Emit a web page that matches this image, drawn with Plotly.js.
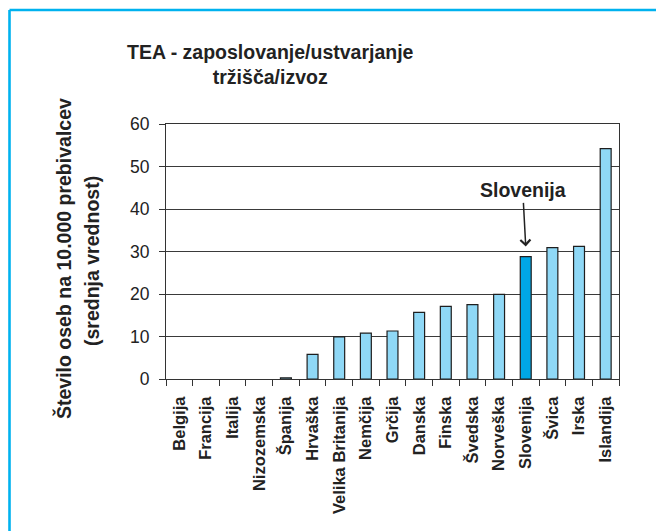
<!DOCTYPE html>
<html>
<head>
<meta charset="utf-8">
<script src="https://cdn.plot.ly/plotly-3.0.1.min.js"></script>
<style>html,body{margin:0;padding:0;background:#fff;}#chart{width:656px;height:531px;}</style>
</head>
<body>
<div id="chart"></div>
<script>
const categories = ['Belgija','Francija','Italija','Nizozemska','Španija','Hrvaška','Velika Britanija','Nemčija','Grčija','Danska','Finska','Švedska','Norveška','Slovenija','Švica','Irska','Islandija'];
const values = [0, 0, 0, 0, 0.3, 5.8, 9.9, 10.8, 11.3, 15.7, 17.1, 17.5, 19.9, 28.8, 30.9, 31.2, 54.2];
const highlight = 'Slovenija';
const titleText = 'TEA - zaposlovanje/ustvarjanje<br>tržišča/izvoz';
const yTitle1 = 'Število oseb na 10.000 prebivalcev';
const yTitle2 = '(srednja vrednost)';
const yTicks = [0, 10, 20, 30, 40, 50, 60];

const FONT = 'Liberation Sans, Arial, sans-serif';
const colors = categories.map(c => c === highlight ? '#00a7e6' : '#8fd8f6');
const lineWidths = values.map(v => v > 0 ? 1.2 : 0);

const trace = {
  type: 'bar',
  x: categories,
  y: values,
  marker: {color: colors, line: {color: '#1e1e1e', width: lineWidths}},
  hoverinfo: 'x+y'
};

const layout = {
  width: 656, height: 531,
  margin: {l: 166, r: 37, t: 124, b: 152, pad: 0},
  paper_bgcolor: '#ffffff', plot_bgcolor: '#ffffff',
  showlegend: false,
  bargap: 0.59,
  font: {family: FONT, color: '#222'},
  xaxis: {
    type: 'category',
    tickson: 'boundaries',
    ticks: 'outside', ticklen: 6, tickcolor: '#333', tickwidth: 1,
    showline: true, linecolor: '#333', linewidth: 1, mirror: true,
    showgrid: false,
    tickangle: -90,
    ticklabelstandoff: 10,
    tickfont: {family: FONT, size: 16.5, color: '#222', weight: 'bold'}
  },
  yaxis: {
    range: [0, 60],
    tickvals: yTicks,
    ticks: 'outside', ticklen: 6, tickcolor: '#333', tickwidth: 1,
    showline: true, linecolor: '#333', linewidth: 1, mirror: true,
    showgrid: true, gridcolor: '#3a3a3a', gridwidth: 1,
    zeroline: false,
    ticklabelstandoff: 6,
    tickfont: {family: FONT, size: 17.5, color: '#222'}
  },
  annotations: [
    {text: '<b>' + titleText + '</b>', xref: 'paper', yref: 'paper',
     x: (270 - 166) / 453, y: (379 - 65) / 255, xanchor: 'center', yanchor: 'middle',
     showarrow: false, font: {family: FONT, size: 19.5, color: '#222'}},
    {text: '<b>' + yTitle1 + '</b>', xref: 'paper', yref: 'paper',
     x: (63 - 166) / 453, y: (379 - 259) / 255, xanchor: 'center', yanchor: 'middle',
     textangle: -90, showarrow: false, font: {family: FONT, size: 19.5, color: '#222'}},
    {text: '<b>' + yTitle2 + '</b>', xref: 'paper', yref: 'paper',
     x: (92 - 166) / 453, y: (379 - 261) / 255, xanchor: 'center', yanchor: 'middle',
     textangle: -90, showarrow: false, font: {family: FONT, size: 19.5, color: '#222'}},
    {text: '<b>' + highlight + '</b>', x: highlight, y: 31.2, xref: 'x', yref: 'y',
     showarrow: true, arrowhead: 4, arrowsize: 1.3, arrowwidth: 1.5, arrowcolor: '#222',
     ax: -3, ay: -56, font: {family: FONT, size: 19.5, color: '#222'}}
  ],
  shapes: [
    {type: 'line', xref: 'paper', yref: 'paper', x0: (9.5 - 166) / 453, x1: (660 - 166) / 453,
     y0: (379 - 10) / 255, y1: (379 - 10) / 255, line: {color: '#00b2ef', width: 2.6}},
    {type: 'line', xref: 'paper', yref: 'paper', x0: (9.5 - 166) / 453, x1: (9.5 - 166) / 453,
     y0: (379 - 10) / 255, y1: (379 - 540) / 255, line: {color: '#00b2ef', width: 2.6}}
  ]
};

Plotly.newPlot('chart', [trace], layout, {displayModeBar: false, staticPlot: true});
</script>
</body>
</html>
